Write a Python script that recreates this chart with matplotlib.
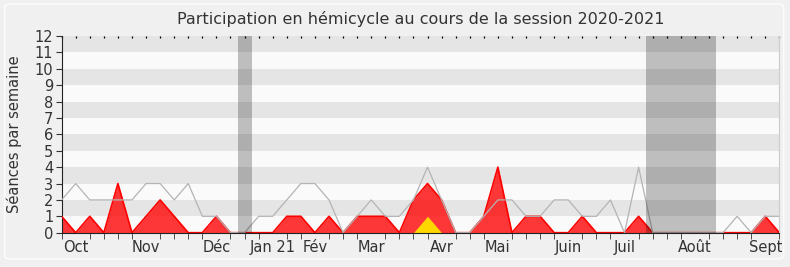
import matplotlib
matplotlib.use("Agg")
import matplotlib.pyplot as plt
from matplotlib.patches import FancyBboxPatch

# weekly values, session 2020-2021 (52 weeks)
presence = [1, 0, 1, 0, 3, 0, 1, 2, 1, 0, 0, 1, 0, 0, 0, 0, 1, 1,
            0, 1, 0, 1, 1, 1, 0, 2, 3, 2, 0, 0, 1, 4, 0, 1, 1,
            0, 0, 1, 0, 0, 0, 1, 0, 0, 0, 0, 0, 0, 0, 0, 1, 0]
interventions = [0] * 26 + [1] + [0] * 25
mediane = [2, 3, 2, 2, 2, 2, 3, 3, 2, 3, 1, 1, 0, 0, 1, 1, 2, 3,
           3, 2, 0, 1, 2, 1, 1, 2, 4, 2, 0, 0, 1, 2, 2, 1, 1,
           2, 2, 1, 1, 2, 0, 4, 0, 0, 0, 0, 0, 0, 1, 0, 1, 1]
weeks = list(range(len(presence)))

vacances = [(12.5, 13.5), (41.5, 46.5)]
month_pos = [1, 6, 11, 15, 18, 22, 27, 31, 36, 40, 45, 50]
month_labels = ["Oct", "Nov", "Déc", "Jan 21", "Fév", "Mar", "Avr",
                "Mai", "Juin", "Juil", "Août", "Sept"]

fig = plt.figure(figsize=(7.9, 2.67), dpi=100)
fig.patch.set_facecolor("#f0f0f0")
fig.patches.append(FancyBboxPatch((0.006, 0.03), 0.986, 0.955,
                                  boxstyle="round,pad=0,rounding_size=0.01",
                                  transform=fig.transFigure, facecolor="none",
                                  edgecolor="#fbfbfb", linewidth=1.2))

ax = fig.add_axes([0.078, 0.1285, 0.9085, 0.7365])
ax.set_facecolor("#fafafa")

# horizontal stripes
for k in range(1, 12, 2):
    ax.axhspan(k, k + 1, color="#e5e5e5", lw=0, zorder=0)

ax.fill_between(weeks, presence, color="#ff0000", alpha=0.78, lw=0, zorder=2)
ax.plot(weeks, presence, color="#ff0000", lw=1.2, zorder=3)
ax.fill_between(weeks, interventions, color="#ffd700", lw=0, zorder=4)
ax.plot(weeks, mediane, color="#b4b4b4", lw=0.9, zorder=5)

for a, b in vacances:
    ax.axvspan(a, b, color="black", alpha=0.24, lw=0, zorder=6)

ax.set_xlim(0, 51)
ax.set_ylim(0, 12)
ax.set_yticks(range(13))
ax.set_xticks(weeks, minor=True)
ax.set_xticks(month_pos)
ax.set_xticklabels(month_labels)

ax.tick_params(axis="y", labelsize=10.5, length=4, color="#333333",
               labelcolor="#333333", pad=2)
ax.tick_params(axis="x", which="major", labelsize=10.5, length=0,
               labelcolor="#333333", pad=5)
ax.tick_params(axis="x", which="minor", length=4, color="#333333")
ax.set_ylabel("Séances par semaine", fontsize=10.5, color="#333333", labelpad=9)

# small dots along the top edge
top = ax.secondary_xaxis("top")
top.set_xticks(weeks)
top.tick_params(direction="in", length=1.2, width=0.9, color="black",
                labeltop=False)
top.spines["top"].set_visible(False)

ax.spines["top"].set_visible(False)
ax.spines["right"].set_color("#cccccc")
ax.spines["left"].set_color("#222222")
ax.spines["bottom"].set_color("#222222")
ax.spines["bottom"].set_zorder(7)

ax.set_title("Participation en hémicycle au cours de la session 2020-2021",
             fontsize=11.5, color="#333333", pad=9)

plt.savefig("out.png", dpi=100, facecolor=fig.get_facecolor())
plt.close()
